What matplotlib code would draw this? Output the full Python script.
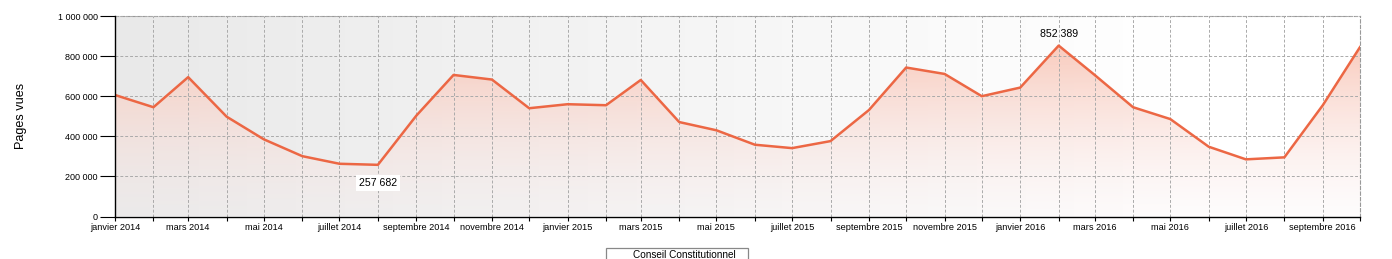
import datetime as dt
import numpy as np
import matplotlib
matplotlib.use("Agg")
import matplotlib.pyplot as plt
import matplotlib.dates as mdates
from matplotlib.patches import Rectangle

plt.rcParams['font.family'] = ['Liberation Sans', 'DejaVu Sans']

# monthly page views, janvier 2014 -> octobre 2016
months = [dt.date(2014 + (i // 12), i % 12 + 1, 1) for i in range(34)]
views = [606000, 545000, 695000, 498000, 385000, 301000, 263000, 257682,
         503000, 706000, 683000, 540000, 560000, 555000, 681000, 471000,
         430000, 358000, 341000, 376000, 531000, 743000, 711000, 600000,
         643000, 852389, 706000, 545000, 486000, 348000, 285000, 295000,
         555000, 845000]
month_names = ['janvier', 'février', 'mars', 'avril', 'mai', 'juin', 'juillet',
               'août', 'septembre', 'octobre', 'novembre', 'décembre']
y_ticks = [0, 200000, 400000, 600000, 800000, 1000000]
series_name = 'Conseil Constitutionnel'

W, H = 1392, 259
fig = plt.figure(figsize=(W / 100, H / 100), dpi=100)
ax = fig.add_axes([115 / W, 1 - 216.5 / H, (1360 - 115) / W, (216.5 - 16) / H])

x = mdates.date2num(months)
x0, x1 = x[0], x[-1]
ax.set_xlim(x0, x1)
ax.set_ylim(0, 1000000)

# grey -> white background gradient
bg = np.clip(np.linspace(0, 1, 256) / 0.85, 0, 1)
bg_rgb = np.zeros((2, 256, 3))
for c in range(3):
    bg_rgb[:, :, c] = 0.915 + 0.085 * bg
ax.imshow(bg_rgb, extent=[x0, x1, 0, 1000000], aspect='auto', zorder=0, interpolation='bilinear')

# gradient fill under the line
fill = ax.fill_between(x, views, 0, color='none', lw=0, zorder=1)
top = np.array([0.98, 0.78, 0.72, 0.95])
bot = np.array([0.98, 0.93, 0.93, 0.15])
t = np.linspace(0, 1, 256)[:, None]
grad = top * (1 - t) + bot * t
grad_img = grad[:, None, :].repeat(2, axis=1)
im = ax.imshow(grad_img, extent=[x0, x1, 0, 870000], aspect='auto', zorder=1,
               interpolation='bilinear', origin='upper')
im.set_clip_path(fill.get_paths()[0], transform=ax.transData)

ax.plot(x, views, color='#ec6744', lw=1.8, zorder=3)

# axes styling
ax.yaxis.set_ticks(y_ticks)
ax.set_yticklabels(['{:,}'.format(v).replace(',', ' ') for v in y_ticks])
major = [m for m in months if m.month % 2 == 1]
ax.set_xticks(mdates.date2num(major))
ax.set_xticklabels(['%s %d' % (month_names[m.month - 1], m.year) for m in major])
ax.set_xticks(x, minor=True)
ax.tick_params(axis='x', which='both', length=3, width=0.8, pad=2, labelsize=6.6)
ax.tick_params(axis='y', length=10.8, width=0.8, pad=1.5, labelsize=6.5)
ax.grid(True, which='both', color='#aaaaaa', ls=(0, (3, 2)), lw=0.7, zorder=2)
ax.set_axisbelow(False)
for s in ['top', 'right']:
    ax.spines[s].set_color('#999999')
    ax.spines[s].set_linestyle((0, (3, 2)))
    ax.spines[s].set_linewidth(0.8)
for s in ['left', 'bottom']:
    ax.spines[s].set_color('black')
    ax.spines[s].set_linewidth(1.0)
    ax.spines[s].set_zorder(6)

fig.text(21 / W, 1 - 116 / H, 'Pages vues', rotation=90, ha='center', va='center', fontsize=9.1)

# min / max labels
imin = int(np.argmin(views))
imax = int(np.argmax(views))
ax.annotate('{:,}'.format(views[imin]).replace(',', ' '), (x[imin], views[imin]),
            xytext=(0, -13), textcoords='offset points', ha='center', va='center',
            fontsize=7.6, zorder=5,
            bbox=dict(boxstyle='square,pad=0.25', fc='white', ec='none'))
ax.annotate('{:,}'.format(views[imax]).replace(',', ' '), (x[imax], views[imax]),
            xytext=(0, 8.5), textcoords='offset points', ha='center', va='center',
            fontsize=7.6, zorder=5)

# legend box at the bottom edge
fig.patches.append(Rectangle((606 / W, -0.2), (748 - 606) / W, 0.2 + 1 - 248 / H,
                             transform=fig.transFigure, fill=False, ec='#888888', lw=0.9))
fig.text(684 / W, 1 - 250.5 / H, series_name, ha='center', va='top', fontsize=7.2)

fig.savefig('out.png', dpi=100)
